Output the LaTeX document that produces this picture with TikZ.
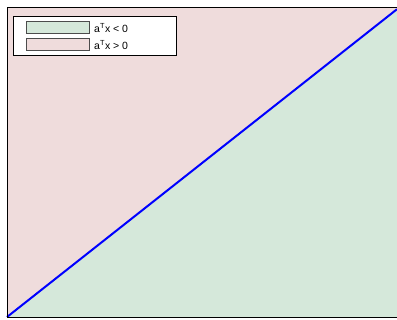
\documentclass[tikz,border=0pt]{standalone}
\usepackage{fontspec}
\setmainfont{Liberation Sans}
\definecolor{negcol}{HTML}{D5E8DA}
\definecolor{poscol}{HTML}{EFDCDC}
\begin{document}
\begin{tikzpicture}[x=1pt,y=-1pt,
  patch/.style={draw=black!70, line width=0.8pt},
  lbl/.style={anchor=west, inner sep=0pt, font=\fontsize{10.5}{12}\selectfont}]
\useasboundingbox (0,0) rectangle (397,320);
\coordinate (bl) at (7,317);
\coordinate (tr) at (397,9.2);
\fill[poscol] (7,7) rectangle (397,317);
\fill[negcol] (bl) -- (tr) -- (397,317) -- cycle;
\draw[blue, line width=2pt] (bl) -- (tr);
\draw[line width=0.8pt] (398,7) -- (7,7) -- (7,317) -- (398,317);
\node[draw, line width=0.8pt, fill=white, minimum width=163, minimum height=39, inner sep=0pt, anchor=north west] (leg) at (13,16) {};
\node[patch, fill=negcol, minimum width=63, minimum height=12, inner sep=0pt, anchor=north west] (p1) at (26,21) {};
\node[patch, fill=poscol, minimum width=63, minimum height=12, inner sep=0pt, anchor=north west] (p2) at (26,38) {};
\node[lbl] (t1) at (94,28) {a\textsuperscript{T}x < 0};
\node[lbl] (t2) at (94,45) {a\textsuperscript{T}x > 0};
\end{tikzpicture}
\end{document}
